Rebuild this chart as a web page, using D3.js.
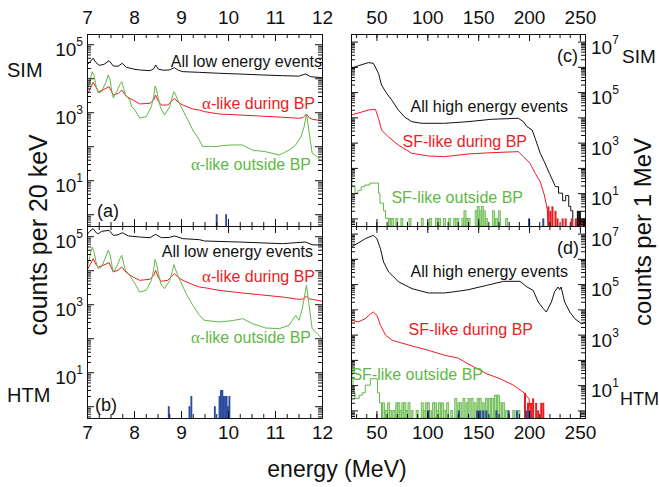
<!DOCTYPE html>
<html>
<head>
<meta charset="utf-8">
<script src="https://cdn.jsdelivr.net/npm/d3@7"></script>
<style>
  body { margin: 0; background: #fff; }
  svg { display: block; font-family: "Liberation Sans", Arial, Helvetica, sans-serif; }
</style>
</head>
<body>
<svg id="chart" width="659" height="487"></svg>
<script>

// panel (a) SIM, counts per 20 keV
var aAll = [[7.00,24500],[7.06,30000],[7.13,38500],[7.19,29000],[7.26,24000],[7.36,25500],[7.47,32800],[7.56,22900],
  [7.66,22500],[7.75,27500],[7.84,20900],[8.00,18500],[8.12,17500],[8.34,16700],[8.42,19000],[8.46,24500],[8.52,18500],
  [8.62,17200],[8.75,17500],[8.86,20400],[8.95,17000],[9.04,15600],[9.39,14900],[9.80,14000],[10.24,13300],[10.70,12500],
  [11.16,11900],[11.50,11500],[11.65,13300],[11.76,11100],[12.00,10400]];
var aDur = [[7.00,3210],[7.07,5000],[7.13,7600],[7.20,5200],[7.24,4020],[7.34,4510],[7.47,5640],[7.56,3210],[7.67,3600],
  [7.74,4510],[7.84,2860],[7.98,2290],[8.12,1750],[8.34,1830],[8.42,2300],[8.46,3210],[8.52,2100],[8.58,1630],[8.72,1630],
  [8.86,2570],[8.95,1900],[9.04,1630],[9.25,1245],[9.39,1160],[9.50,1040],[9.81,887],[10.24,830],[10.66,775],[11.16,710],
  [11.51,664],[11.60,700],[11.67,887],[11.72,700],[11.79,620],[12.00,564]];
var aOut = [[7.00,4020],[7.06,8000],[7.11,15600],[7.15,12000],[7.19,6000],[7.24,3680],[7.31,4020],[7.40,7500],[7.45,12400],
  [7.49,9000],[7.53,4000],[7.56,2620],[7.63,4020],[7.70,6500],[7.74,7900],[7.78,5000],[7.82,3210],[7.91,2290],[7.95,1455],
  [8.02,1160],[8.12,678],[8.26,740],[8.37,1455],[8.42,3000],[8.45,5910],[8.48,4500],[8.52,2500],[8.57,1300],[8.65,830],
  [8.76,1455],[8.82,3000],[8.85,4020],[8.88,3400],[8.93,2290],[9.11,740],[9.25,300],[9.39,152],[9.46,97],[9.60,100],
  [9.75,97],[9.90,105],[10.10,109],[10.30,109],[10.52,77],[10.80,69],[11.09,55],[11.30,77],[11.44,109],[11.55,190],
  [11.62,376],[11.67,887],[11.72,300],[11.79,63],[11.90,49],[12.00,35]];
var aHtm = [[9.76,1],[9.96,1]];

// panel (b) HTM, counts per 20 keV
var bAll = [[7.00,111000],[7.06,140000],[7.13,167000],[7.20,125000],[7.24,119000],[7.31,139000],[7.47,149000],[7.56,106000],
  [7.66,110000],[7.75,127000],[7.88,102000],[8.12,94800],[8.34,90700],[8.46,114000],[8.58,90700],[8.75,92000],[8.86,102000],
  [9.04,84900],[9.39,79300],[9.50,72400],[10.24,67600],[11.16,60400],[11.65,67600],[11.79,56500],[12.00,54000]];
var bDur = [[7.00,9930],[7.07,15000],[7.13,21900],[7.20,14000],[7.24,12400],[7.34,13900],[7.47,16700],[7.56,8870],[7.66,10000],
  [7.74,12400],[7.84,8470],[7.98,6320],[8.12,5050],[8.34,5400],[8.42,7000],[8.46,9930],[8.52,6000],[8.58,4720],[8.72,5050],
  [8.86,7920],[8.95,6000],[9.04,5050],[9.25,3770],[9.39,3210],[9.50,3070],[9.81,2560],[10.24,2190],[10.66,1910],[11.16,1630],
  [11.51,1390],[11.62,1450],[11.67,1750],[11.72,1450],[11.79,1390],[12.00,1220]];
var bOut = [[7.00,11100],[7.06,25000],[7.11,48200],[7.15,35000],[7.19,18000],[7.24,11100],[7.31,12400],[7.40,25000],[7.45,38500],
  [7.49,28000],[7.53,14000],[7.56,8870],[7.63,12400],[7.70,22000],[7.74,27400],[7.78,16000],[7.82,9930],[7.91,7080],[7.95,5650],
  [8.02,4030],[8.12,2290],[8.26,2560],[8.37,5050],[8.42,11000],[8.45,20900],[8.48,15000],[8.52,8000],[8.57,4000],[8.65,2870],
  [8.76,5050],[8.82,10000],[8.85,14600],[8.88,11000],[8.93,7080],[9.11,2050],[9.25,929],[9.39,480],[9.49,340],[9.81,300],
  [10.10,330],[10.31,376],[10.52,268],[10.80,200],[11.09,191],[11.30,240],[11.44,472],[11.51,336],[11.58,740],[11.67,3600],
  [11.72,1040],[11.79,191],[11.90,136],[12.00,97]];
var bHtm = [[8.74,1],[9.18,1],[9.22,2],[9.72,1],[9.82,2],[9.85,3],[9.88,3],[9.91,2],[9.94,2],[9.97,2],[10.00,1],[10.03,2]];

// panel (c) SIM, counts per 1 MeV
var cAll = [[25,875000],[32,1100000],[42,1470000],[47,1380000],[52,556000],[55,191000],[60,89700],[65,48800],[71.5,19600],
  [78,10100],[84.7,6750],[94.5,5830],[117,5830],[140,6750],[163,8400],[189.5,9200],[194.5,6750],[198,4280],[203,3170],
  [206,1490],[211,378],[215,176],[220,61],[226,18],[229,18],[229,10],[233,10],[233,5],[236,5],[236,8],[239,8],[239,3],
  [241,3],[241,2],[243,2],[243,0.3]];
var cDur = [[25,12400],[35,16000],[42,19600],[49,20900],[52,9200],[55,3170],[61.5,1720],[71.5,807],[84.7,378],[101,296],
  [117,278],[140,355],[163,400],[189.5,438],[194.5,278],[201,152],[206,61],[211,28],[215,8.5],[218,2.2],[219,0.3]];
var cOut = [[25,61],[26,18],[29,10],[32,13],[35,18],[38.5,21],[43.5,25],[52,10],[53.5,4],[57,2],[59,1],[62,0.3]];
var cOutBars = [[63,1],[66,1],[70,1],[75,1],[83,1],[95,1],[103,1],[109,1],[112,1],[117,1],[122,1],[127,1],[130,1],[135,1],
  [137,2],[139,1],[141,1],[148,2],[150,3],[152,2],[154,3],[156,2],[158,1],[165,2],[168,1],[171,2],[178,1]];
var cDurBars = [[219,3],[221,2],[223,3],[226,2],[228,1],[233,1],[236,1],[242,1],[246,1],[252,1]];
var cAllBars = [[248,2],[250,2],[254,1]];
var cHtm = [[200,1],[214,1]];

// panel (d) HTM, counts per 1 MeV
var dAll = [[25,2950000],[32,4200000],[39,6300000],[47,8500000],[50.5,6300000],[54,2500000],[57,752000],[62,302000],
  [72,121000],[85,66200],[101,44600],[117,44600],[130,52000],[140,60000],[158.5,89500],[175,129000],[191,129000],
  [198,76900],[204,56800],[209,19600],[214,10700],[217,7870],[222,19600],[225,48800],[228.5,76900],[230,60000],
  [231.5,76900],[235,19600],[240,7870],[245,4280],[251.5,2710],[255,3100]];
var dDur = [[25,3700],[32,3170],[39,4280],[44,6500],[47,7870],[50.5,5830],[54,2340],[59,942],[65.5,597],[85,355],[101,240],
  [117,152],[130,119],[140,70],[149,45],[158.5,28],[171.5,18],[184.5,10],[194,5.4],[200,2.9],[202,0.3]];
var dOut = [[25,100],[26,20],[27,5],[29,3],[33,4],[36,5],[39,10],[44,18],[51,5],[53,2],[55,0.3]];
var dOutBars = [[57,2],[60,1],[62,2],[64,1],[67,1],[70,2],[72,2],[74,1],[76,2],[78,2],[80,1],[82,2],[85,1],[90,1],[95,2],
  [97,1],[99,2],[101,2],[103,1],[106,2],[108,2],[110,1],[112,2],[115,2],[117,1],[120,2],[124,1],[128,3],[131,2],[133,2],
  [136,3],[139,2],[141,3],[144,3],[147,2],[150,3],[152,3],[155,2],[158,3],[161,3],[164,3],[167,4],[170,4],[172,2],[175,2],
  [178,1],[185,1],[190,1]];
var dDurBars = [[196,5],[199,2],[202,2],[204,3],[207,2],[209,1],[212,2],[214,2]];
var dHtm = [[101,1],[131,1],[149,1],[152,1],[155,1],[158,1],[168,1],[180,1],[188,1],[197,1],[200,1]];

// tick labels
var xTicksLo = [7, 8, 9, 10, 11, 12];
var xTicksHi = [50, 100, 150, 200, 250];

// ---- drawing ----
var black = "#111", red = "#ed1c24", green = "#5fb847", light = "#b9dea6", blue = "#2c4c9e";
var svg = d3.select("#chart");

var xLo = d3.scaleLinear().domain([7, 12]).range([87, 322]);
var xHi = d3.scaleLinear().domain([25, 255]).range([351, 585]);
var yA = d3.scaleLog().domain([0.45, 2e5]).range([226, 34]);
var yB = d3.scaleLog().domain([0.45, 2e5]).range([418, 226]);
var yC = d3.scaleLog().domain([0.5, 2e7]).range([226, 34]);
var yD = d3.scaleLog().domain([0.5, 2e7]).range([418, 226]);

var panels = [
  {id: "a", x: xLo, y: yA, bw: 0.04, xLab: "top", yLab: "left", dec: [1, 3, 5],
   lines: [[aAll, black], [aDur, red], [aOut, green]], bars: [[aHtm, blue]]},
  {id: "b", x: xLo, y: yB, bw: 0.04, xLab: "bottom", yLab: "left", dec: [1, 3, 5],
   lines: [[bAll, black], [bDur, red], [bOut, green]], bars: [[bHtm, blue]]},
  {id: "c", x: xHi, y: yC, bw: 2, xLab: "top", yLab: "right", dec: [1, 3, 5, 7],
   under: [[cOutBars, light, green]], lines: [[cAll, black], [cDur, red], [cOut, green, d3.curveStepAfter]],
   bars: [[cDurBars, red], [cAllBars, black], [cHtm, blue]]},
  {id: "d", x: xHi, y: yD, bw: 2, xLab: "bottom", yLab: "right", dec: [1, 3, 5, 7],
   under: [[dOutBars, light, green]], lines: [[dAll, black], [dDur, red], [dOut, green, d3.curveStepAfter]],
   bars: [[dDurBars, red], [dHtm, blue]]}
];

function drawBars(g, p, data, fill, stroke) {
  var y0 = p.y.range()[0];
  g.selectAll(null).data(data).enter().append("rect")
    .attr("x", function(d) { return p.x(d[0] - p.bw / 2); })
    .attr("width", function(d) { return p.x(d[0] + p.bw / 2) - p.x(d[0] - p.bw / 2); })
    .attr("y", function(d) { return p.y(d[1]); })
    .attr("height", function(d) { return y0 - p.y(d[1]); })
    .attr("fill", fill)
    .attr("stroke", stroke || "none")
    .attr("stroke-width", 0.8);
}

panels.forEach(function(p) {
  var xr = p.x.range(), yr = p.y.range();
  svg.append("clipPath").attr("id", "clip-" + p.id).append("rect")
    .attr("x", xr[0]).attr("y", yr[1]).attr("width", xr[1] - xr[0]).attr("height", yr[0] - yr[1]);
  var g = svg.append("g").attr("clip-path", "url(#clip-" + p.id + ")");

  (p.under || []).forEach(function(b) { drawBars(g, p, b[0], b[1], b[2]); });
  p.lines.forEach(function(l) {
    g.append("path").datum(l[0])
      .attr("fill", "none").attr("stroke", l[1]).attr("stroke-width", 1)
      .attr("d", d3.line().x(function(d) { return p.x(d[0]); }).y(function(d) { return p.y(d[1]); })
        .curve(l[2] || d3.curveLinear));
  });
  p.bars.forEach(function(b) { drawBars(g, p, b[0], b[1], b[2]); });

  // axes: inward ticks on all four sides
  var lo = p.x === xLo;
  var xMajor = lo ? xTicksLo : xTicksHi;
  var xMinor = lo ? d3.range(7, 12.001, 0.25) : d3.range(30, 255, 10);
  var yAll = p.y.ticks();
  var yMajor = yAll.filter(function(v) { return Math.abs(Math.log10(v) - Math.round(Math.log10(v))) < 1e-6; });
  var yMinor = yAll.filter(function(v) { return yMajor.indexOf(v) < 0; });

  function ax(gen, scale, vals, size, pos, fmt, pad) {
    svg.append("g").attr("class", "axis").attr("transform", pos)
      .call(gen(scale).tickValues(vals).tickSizeInner(-size).tickSizeOuter(0)
        .tickPadding(pad || 3).tickFormat(fmt || ""));
  }
  var fmtX = d3.format("d");
  ax(d3.axisBottom, p.x, xMinor, 4, "translate(0," + yr[0] + ")");
  ax(d3.axisBottom, p.x, xMajor, 7, "translate(0," + yr[0] + ")", p.xLab === "bottom" ? fmtX : "", 8);
  ax(d3.axisTop, p.x, xMinor, 4, "translate(0," + yr[1] + ")");
  ax(d3.axisTop, p.x, xMajor, 7, "translate(0," + yr[1] + ")", p.xLab === "top" ? fmtX : "", 10);
  ax(d3.axisLeft, p.y, yMinor, 4, "translate(" + xr[0] + ",0)");
  ax(d3.axisLeft, p.y, yMajor, 7, "translate(" + xr[0] + ",0)");
  ax(d3.axisRight, p.y, yMinor, 4, "translate(" + xr[1] + ",0)");
  ax(d3.axisRight, p.y, yMajor, 7, "translate(" + xr[1] + ",0)");

  // decade labels 10^n
  p.dec.forEach(function(n) {
    var t = svg.append("text").attr("y", p.y(Math.pow(10, n)) + 12).attr("font-size", 19).attr("fill", "#111");
    if (p.yLab === "left") t.attr("x", xr[0] - 4).attr("text-anchor", "end");
    else t.attr("x", xr[1] + 6);
    t.append("tspan").text("10");
    t.append("tspan").attr("font-size", 12).attr("dy", -10).text(n);
  });
});

svg.selectAll(".axis path, .axis line").attr("stroke", "#111").attr("stroke-width", 1);
svg.selectAll(".axis text").attr("font-size", 19).attr("fill", "#111")
  .attr("font-family", "'Liberation Sans', Arial, sans-serif");

// curve labels
var labels = [
  [322, 67, "All low energy events", black], [315, 109, "-like during BP", red, true], [311, 170, "-like outside BP", green, true],
  [313, 257, "All low energy events", black], [315, 282, "-like during BP", red, true], [311, 343, "-like outside BP", green, true],
  [568, 112, "All high energy events", black], [527, 147, "SF-like during BP", red], [523, 203, "SF-like outside BP", green],
  [568, 277, "All high energy events", black], [533, 335, "SF-like during BP", red], [483, 380, "SF-like outside BP", green]
];
labels.forEach(function(l) {
  var t = svg.append("text").attr("x", l[0]).attr("y", l[1]).attr("text-anchor", "end")
    .attr("font-size", 16).attr("fill", l[3]);
  if (l[4]) t.append("tspan").attr("font-family", "'Liberation Serif', serif").attr("font-size", 17).text("\u03b1");
  t.append("tspan").text(l[2]);
});

[[97, 217, "(a)"], [95, 411, "(b)"], [557, 62, "(c)"], [557, 254, "(d)"]].forEach(function(l) {
  svg.append("text").attr("x", l[0]).attr("y", l[1]).attr("font-size", 18).attr("fill", "#111").text(l[2]);
});

[[7, 77, "SIM", 20], [7, 402, "HTM", 20], [622, 63, "SIM", 19], [620, 405, "HTM", 18]].forEach(function(l) {
  svg.append("text").attr("x", l[0]).attr("y", l[1]).attr("font-size", l[3]).attr("fill", "#111").text(l[2]);
});

svg.append("text").attr("x", 337).attr("y", 477).attr("text-anchor", "middle")
  .attr("font-size", 23).attr("fill", "#111").text("energy (MeV)");
svg.append("text").attr("transform", "translate(47,235) rotate(-90)").attr("text-anchor", "middle")
  .attr("font-size", 25).attr("fill", "#111").text("counts per 20 keV");
svg.append("text").attr("transform", "translate(651,232) rotate(-90)").attr("text-anchor", "middle")
  .attr("font-size", 24).attr("fill", "#111").text("counts per 1 MeV");
</script>
</body>
</html>
